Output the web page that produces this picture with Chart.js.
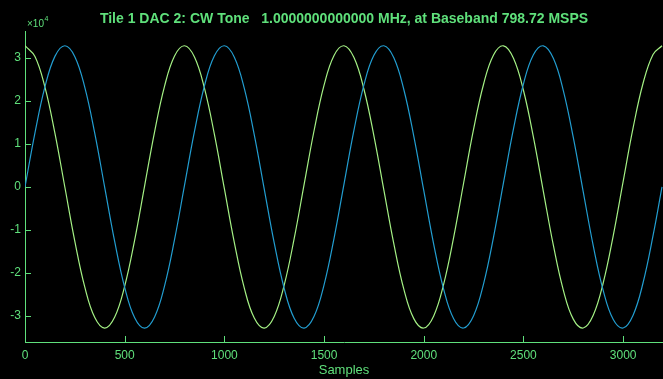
<!DOCTYPE html>
<html>
<head>
<meta charset="utf-8">
<script src="https://cdn.jsdelivr.net/npm/chart.js@4/dist/chart.umd.min.js"></script>
<style>
  html, body { margin: 0; padding: 0; background: #000; }
  #wrap { width: 663px; height: 379px; }
</style>
</head>
<body>
<div id="wrap"><canvas id="toneChart" width="663" height="379"></canvas></div>
<script>
// sample index (every 50 samples, last point at the end of the record)
const samples = [0, 50, 100, 150, 200, 250, 300, 350, 400, 450, 500, 550, 600, 650, 700, 750,
  800, 850, 900, 950, 1000, 1050, 1100, 1150, 1200, 1250, 1300, 1350, 1400, 1450, 1500, 1550,
  1600, 1650, 1700, 1750, 1800, 1850, 1900, 1950, 2000, 2050, 2100, 2150, 2200, 2250, 2300, 2350,
  2400, 2450, 2500, 2550, 2600, 2650, 2700, 2750, 2800, 2850, 2900, 2950, 3000, 3050, 3100, 3150, 3195];

// blue trace (starts at 0, peak near 200)
const blueTrace = [0, 12558, 23199, 30296, 32767, 30234, 23082, 12406, -165, -12711, -23316, -30360, -32766, -30170, -22966, -12254,
  330, 12863, 23431, 30423, 32764, 30107, 22849, 12101, -495, -13016, -23549, -30486, -32762, -30039, -22728, -11946,
  660, 13165, 23660, 30542, 32759, 29972, 22609, 11793, -825, -13317, -23774, -30601, -32755, -29905, -22489, -11638,
  990, 13467, 23887, 30660, 32749, 29838, 22369, 11484, -1154, -13617, -24001, -30718, -32744, -29769, -22248, -11329, 29];

// green trace (starts at the top, trough near 400)
const greenTrace = [32767, 30265, 23141, 12482, -82, -12635, -23257, -30328, -32767, -30202, -23024, -12330, 248, 12787, 23374, 30391,
  32765, 30139, 22906, 12177, -412, -12939, -23491, -30454, -32763, -30076, -22790, -12024, 578, 13090, 23603, 30512,
  32760, 30006, 22669, 11870, -742, -13241, -23717, -30571, -32757, -29939, -22549, -11716, 907, 13392, 23831, 30630,
  32752, 29872, 22429, 11561, -1072, -13542, -23944, -30689, -32747, -29803, -22308, -11406, 1237, 13692, 24056, 30746, 32767];

const xTicks = [0, 500, 1000, 1500, 2000, 2500, 3000];
const yTicks = [-30000, -20000, -10000, 0, 10000, 20000, 30000];

const axisGreen = '#5fe07b';

// MATLAB style: tick marks point into the plot, plus the x10^4 exponent label
const matlabTicks = {
  id: 'matlabTicks',
  afterDraw(chart) {
    const ctx = chart.ctx;
    const x = chart.scales.x, y = chart.scales.y;
    const area = chart.chartArea;
    ctx.save();
    ctx.strokeStyle = axisGreen;
    ctx.lineWidth = 1;
    ctx.beginPath();
    xTicks.forEach(v => {
      const px = Math.round(x.getPixelForValue(v)) + 0.5;
      ctx.moveTo(px, area.bottom);
      ctx.lineTo(px, area.bottom - 6);
    });
    yTicks.forEach(v => {
      const py = Math.round(y.getPixelForValue(v)) + 0.5;
      ctx.moveTo(area.left, py);
      ctx.lineTo(area.left + 6, py);
    });
    ctx.stroke();

    ctx.fillStyle = axisGreen;
    ctx.textBaseline = 'alphabetic';
    ctx.textAlign = 'left';
    ctx.font = '10px "Liberation Sans", Arial, sans-serif';
    ctx.fillText('\u00d710', 27, 27);
    const w = ctx.measureText('\u00d710').width;
    ctx.font = '7px "Liberation Sans", Arial, sans-serif';
    ctx.fillText('4', 27 + w + 0.5, 21);
    ctx.restore();
  }
};

const ctx = document.getElementById('toneChart').getContext('2d');
const toneChart = new Chart(ctx, {
  type: 'line',
  data: {
    labels: samples,
    datasets: [
      {
        label: 'I',
        data: samples.map((s, i) => ({ x: s, y: blueTrace[i] })),
        borderColor: '#229dd0',
        borderWidth: 1.2,
        pointRadius: 0,
        tension: 0.4,
        fill: false
      },
      {
        label: 'Q',
        data: samples.map((s, i) => ({ x: s, y: greenTrace[i] })),
        borderColor: '#a4f084',
        borderWidth: 1.2,
        pointRadius: 0,
        tension: 0.4,
        fill: false
      }
    ]
  },
  options: {
    responsive: false,
    animation: false,
    layout: { padding: { left: 0, right: 0, top: 0, bottom: 0 } },
    plugins: {
      legend: { display: false },
      tooltip: { enabled: false },
      title: {
        display: true,
        fullSize: false,
        text: 'Tile 1 DAC 2: CW Tone   1.0000000000000 MHz, at Baseband 798.72 MSPS',
        color: axisGreen,
        font: { family: '"Liberation Sans", Arial, sans-serif', size: 14, weight: 'bold' },
        padding: { top: 11, bottom: 4 }
      }
    },
    scales: {
      x: {
        type: 'linear',
        min: 0,
        max: 3200,
        afterBuildTicks: s => { s.ticks = xTicks.map(v => ({ value: v })); },
        afterFit: s => { s.height = 37; },
        grid: { display: true, drawOnChartArea: false, drawTicks: false },
        border: { display: true, color: axisGreen, width: 1 },
        ticks: {
          color: axisGreen,
          padding: 6,
          maxRotation: 0,
          font: { family: '"Liberation Sans", Arial, sans-serif', size: 12 },
          callback: v => String(v)
        },
        title: {
          display: true,
          text: 'Samples',
          color: axisGreen,
          font: { family: '"Liberation Sans", Arial, sans-serif', size: 13 },
          padding: { top: 0, bottom: 1 }
        }
      },
      y: {
        min: -36000,
        max: 36000,
        afterBuildTicks: s => { s.ticks = yTicks.map(v => ({ value: v })); },
        afterFit: s => { s.width = 25; },
        grid: { display: true, drawOnChartArea: false, drawTicks: false },
        border: { display: true, color: axisGreen, width: 1 },
        ticks: {
          color: axisGreen,
          padding: 4,
          font: { family: '"Liberation Sans", Arial, sans-serif', size: 12 },
          callback: v => String(v / 10000)
        }
      }
    }
  },
  plugins: [matlabTicks]
});
</script>
</body>
</html>
